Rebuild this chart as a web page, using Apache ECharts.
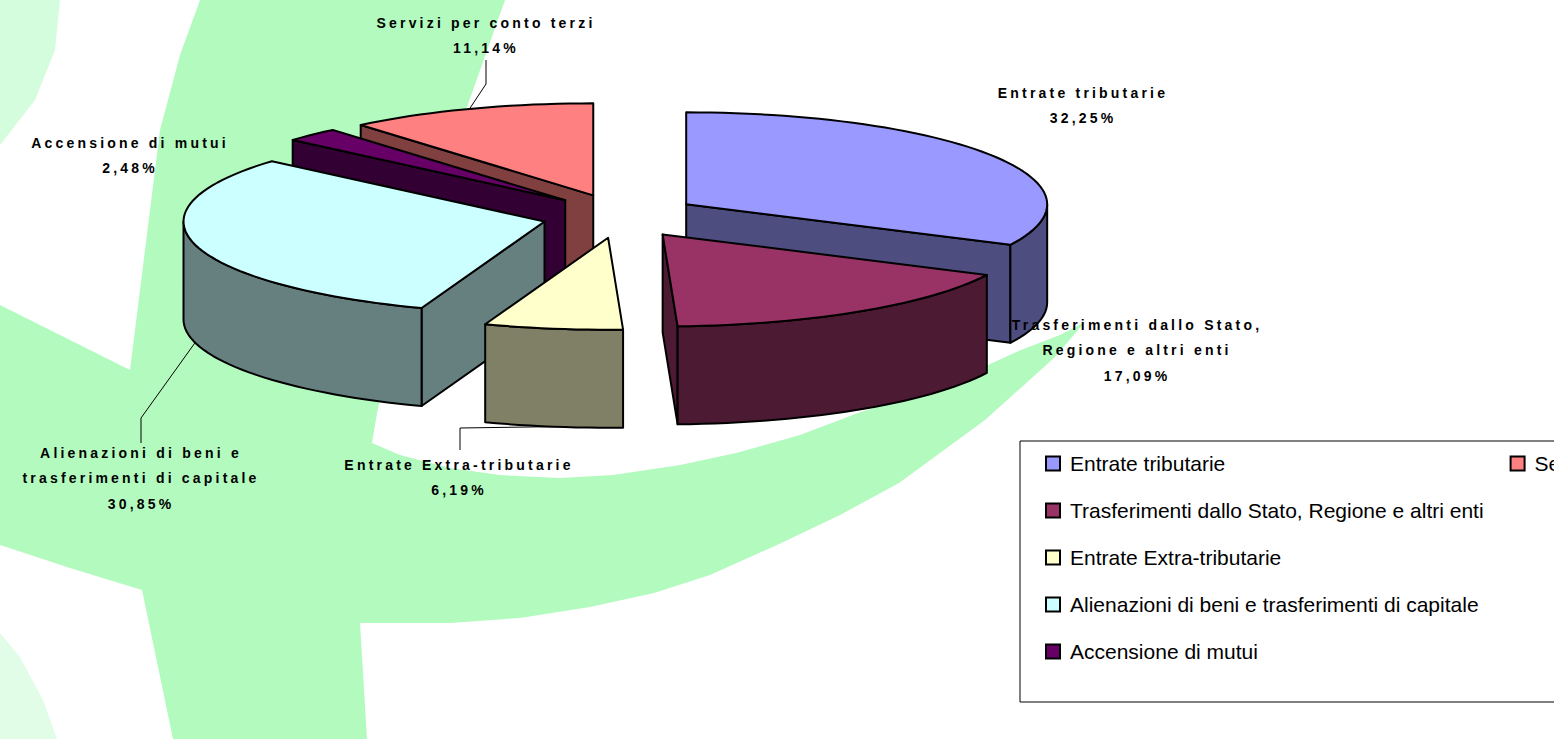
<!DOCTYPE html>
<html>
<head>
<meta charset="utf-8">
<title>Entrate</title>
<style>
  html, body { margin: 0; padding: 0; background: #fff; overflow: hidden; }
  #main { width: 1554px; height: 739px; }
  /* le etichette del grafico hanno le lettere spaziate */
  #main text[style*="bold"] { letter-spacing: 3.2px; }
</style>
<script src="https://cdn.jsdelivr.net/npm/echarts@6/dist/echarts.min.js"></script>
</head>
<body>
<div id="main"></div>
<script>
// dati
var categories = [
  "Entrate tributarie",
  "Trasferimenti dallo Stato, Regione e altri enti",
  "Entrate Extra-tributarie",
  "Alienazioni di beni e trasferimenti di capitale",
  "Accensione di mutui",
  "Servizi per conto terzi"
];
var percentages = [32.25, 17.09, 6.19, 30.85, 2.48, 11.14];
var labelTexts = [
  "Entrate tributarie",
  "Trasferimenti dallo Stato,\nRegione e altri enti",
  "Entrate Extra-tributarie",
  "Alienazioni di beni e\ntrasferimenti di capitale",
  "Accensione di mutui",
  "Servizi per conto terzi"
];

// colori e ordine di disegno (dal fondo verso il davanti)
var topColors = ["#9999FF", "#993366", "#FFFFCC", "#CCFFFF", "#660066", "#FF8080"];
var sideColors = ["#4D4D80", "#4D1A33", "#808066", "#668080", "#330033", "#804040"];
var sliceZ = [5, 6, 7, 6, 4, 3];

// geometria della torta
var pieX = 620, pieY = 216;
var radiusX = 361, radiusY = 92, depth = 98;
var explodeX = 78, explodeY = 22;

// posizione del testo: centro x, y prima riga, gomito della linea guida
var labelX = [1083, 1137, 459, 141, 130, 486];
var labelY = [93, 325, 465, 453, 143, 23];
var leaderElbow = [null, null, [[460, 450], [460, 428]], [[141, 443], [141, 418]], null, [[486, 60], [486, 84]]];

var total = percentages.reduce(function (a, b) { return a + b; }, 0);
var startAngles = [];
percentages.reduce(function (sum, v, i) {
  startAngles[i] = sum / total * 360;
  return sum + v;
}, 0);

function rad(d) { return d * Math.PI / 180; }

function sliceCenter(i) {
  var mid = rad(startAngles[i] + percentages[i] / total * 180);
  return [pieX + explodeX * Math.sin(mid), pieY - explodeY * Math.cos(mid)];
}

function rim(c, deg, dy) {
  return [c[0] + radiusX * Math.sin(rad(deg)), c[1] - radiusY * Math.cos(rad(deg)) + (dy || 0)];
}

function arcPoints(c, from, to, dy) {
  var pts = [], n = Math.max(2, Math.ceil(Math.abs(to - from) / 2));
  for (var k = 0; k <= n; k++) pts.push(rim(c, from + (to - from) * k / n, dy));
  return pts;
}

function face(points, fill) {
  return {
    type: "polygon",
    shape: { points: points },
    style: { fill: fill, stroke: "#000", lineWidth: 2, lineJoin: "round" }
  };
}

function radialWall(c, deg, fill) {
  var p = rim(c, deg);
  return face([c, p, [p[0], p[1] + depth], [c[0], c[1] + depth]], fill);
}

// una fetta: pareti visibili e poi la faccia superiore
function renderSlice(i, api) {
  var c = sliceCenter(i);
  var from = startAngles[i];
  var to = from + api.value(0) / total * 360;
  var children = [];
  if (Math.sin(rad(from)) < -1e-6) children.push(radialWall(c, from, sideColors[i]));
  if (Math.sin(rad(to)) > 1e-6) children.push(radialWall(c, to, sideColors[i]));
  var a = Math.max(from, 90), b = Math.min(to, 270);
  if (a < b) {
    children.push(face(arcPoints(c, a, b, 0).concat(arcPoints(c, b, a, depth)), sideColors[i]));
  }
  children.push(face([c].concat(arcPoints(c, from, to, 0)), topColors[i]));
  return { type: "group", children: children };
}

function renderLabel(params, api) {
  var i = params.dataIndex;
  var children = [];
  var pct = api.value(0).toFixed(2).replace(".", ",") + "%";
  children.push({
    type: "text",
    style: {
      text: labelTexts[i] + "\n" + pct,
      x: labelX[i],
      y: labelY[i] - 13,
      align: "center",
      verticalAlign: "top",
      lineHeight: 25.5,
      font: "bold 14px 'Liberation Sans', Arial, sans-serif",
      fill: "#000"
    }
  });
  if (leaderElbow[i]) {
    var mid = startAngles[i] + percentages[i] / total * 180;
    var front = Math.cos(rad(mid)) < 0;
    children.push({
      type: "polyline",
      shape: { points: leaderElbow[i].concat([rim(sliceCenter(i), mid, front ? depth : 0)]) },
      style: { fill: "none", stroke: "#000", lineWidth: 1 }
    });
  }
  return { type: "group", children: children };
}

var series = categories.map(function (name, i) {
  return {
    name: name,
    type: "custom",
    coordinateSystem: "none",
    z: sliceZ[i],
    silent: true,
    itemStyle: { color: topColors[i] },
    data: [[percentages[i]]],
    renderItem: function (params, api) { return renderSlice(i, api); }
  };
});
series.push({
  name: "etichette",
  type: "custom",
  coordinateSystem: "none",
  z: 10,
  silent: true,
  data: percentages.map(function (v) { return [v]; }),
  renderItem: renderLabel
});

// sfondo: il logo verde dietro al grafico
var logoGreen = "#B3FABF";
var bgBand = [[200,0],[505,0],[467,107],[430,210],[400,310],[377,413],[372,443],[400,455],[450,468],[500,475],[560,478],[613,475],[680,465],[736,453],[800,435],[858,413],[940,387],[1021,350],[1060,335],[1085,322],[1054,358],[985,420],[899,483],[840,515],[777,545],[710,575],[654,593],[590,607],[520,618],[450,623],[360,623],[367,739],[173,739],[142,590],[70,568],[0,545],[0,305],[130,370],[140,290],[160,130],[180,55]];
var bgTopLeft = [[0,0],[60,0],[55,50],[35,100],[0,145]];
var bgBottomLeft = [[0,633],[20,657],[43,700],[57,739],[0,739]];

var charts = echarts.init(document.getElementById("main"), null, { renderer: "svg" });
charts.setOption({
  animation: false,
  backgroundColor: "#fff",
  graphic: [
    { type: "polygon", silent: true, shape: { points: bgTopLeft }, style: { fill: "#D3FDDC" } },
    { type: "polygon", silent: true, shape: { points: bgBottomLeft }, style: { fill: "#E2FDE7" } },
    { type: "polygon", silent: true, shape: { points: bgBand }, style: { fill: logoGreen } }
  ],
  legend: {
    orient: "vertical",
    left: 1020,
    top: 441,
    padding: [12, 40, 40, 25],
    itemWidth: 14,
    itemHeight: 14,
    itemGap: 26,
    selectedMode: false,
    icon: "rect",
    backgroundColor: "#fff",
    borderColor: "#000",
    borderWidth: 1,
    itemStyle: { borderColor: "#000", borderWidth: 2 },
    textStyle: { color: "#000", fontSize: 21, fontFamily: "'Liberation Sans', Arial, sans-serif", padding: [0, 0, 0, 5] },
    data: categories
  },
  series: series
});
</script>
</body>
</html>
